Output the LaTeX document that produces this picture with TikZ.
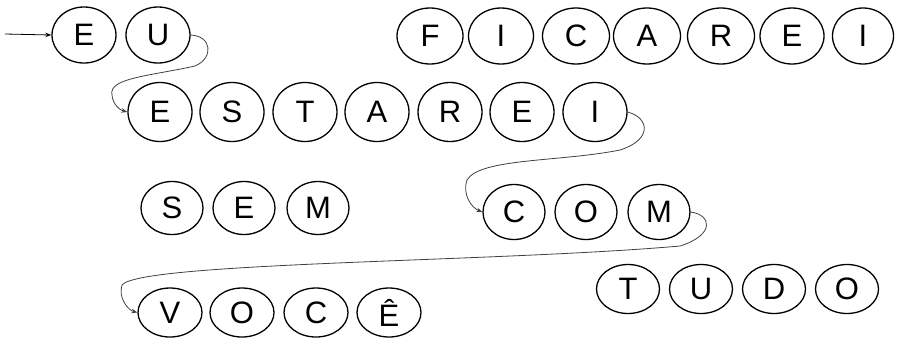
\documentclass[tikz,border=0pt]{standalone}
\usepackage{fontspec}
\setmainfont{Liberation Sans}
\usetikzlibrary{shapes.geometric,arrows.meta}
\begin{document}
\begin{tikzpicture}[x=1pt,y=-1pt,
  letter/.style={ellipse,draw=black,line width=1.3pt,inner sep=0pt,
    minimum width=64pt,minimum height=56pt,font=\fontsize{31}{31}\selectfont},
  small/.style={minimum width=63pt,minimum height=49pt},
  link/.style={draw=black!75,line width=0.8pt,-{Stealth[length=6pt,width=4.5pt]}}]
\useasboundingbox (0,0) rectangle (907,338);
% row 1
\node[letter] (e1) at (84,35) {E};
\node[letter] (u1) at (158,35) {U};
\node[letter,minimum width=66pt] (f1) at (430,36) {F};
\node[letter,minimum width=65pt] (i1) at (501,36) {I};
\node[letter,minimum width=67pt] (c1) at (576,36) {C};
\node[letter,minimum width=67pt] (a1) at (647,36) {A};
\node[letter,minimum width=67pt] (r1) at (721,36) {R};
\node[letter,minimum width=64pt] (e1b) at (792,36) {E};
\node[letter,minimum width=61pt] (i1b) at (863,36) {I};
% row 2
\node[letter,minimum height=59pt] (e2) at (160,112) {E};
\node[letter,minimum height=59pt] (s2) at (232,112) {S};
\node[letter,minimum height=59pt] (t2) at (305,112) {T};
\node[letter,minimum height=59pt] (a2) at (377,112) {A};
\node[letter,minimum height=59pt] (r2) at (450,112) {R};
\node[letter,minimum height=59pt] (e2b) at (522,112) {E};
\node[letter,minimum height=59pt] (i2) at (595,112) {I};
% row 3
\node[letter,minimum width=62pt,minimum height=53pt] (s3) at (172,208) {S};
\node[letter,minimum width=62pt,minimum height=53pt] (e3) at (244,208) {E};
\node[letter,minimum width=62pt,minimum height=53pt] (m3) at (318,208) {M};
\node[letter,minimum width=62pt,minimum height=55pt] (c3) at (514,212) {C};
\node[letter,minimum width=62pt,minimum height=55pt] (o3) at (586,212) {O};
\node[letter,minimum width=62pt,minimum height=55pt] (m3b) at (659,212) {M};
% row 4
\node[letter,small] (t4) at (628,289) {T};
\node[letter,small] (u4) at (701,289) {U};
\node[letter,small] (d4) at (774,289) {D};
\node[letter,small] (o4) at (847,289) {O};
% row 5
\node[letter,minimum height=49pt] (v5) at (170,312.5) {V};
\node[letter,minimum height=49pt] (o5) at (242,312.5) {O};
\node[letter,minimum height=49pt] (c5) at (316,312.5) {C};
\node[letter,minimum height=49pt] (ee5) at (389,312.5) {Ê};
% connectors
\coordinate (start) at (5,34);
\draw[draw=black,line width=0.8pt,-{Stealth[length=6pt,width=4.5pt]}] (start) -- (e1.west);
\draw[link] (u1.east) .. controls (212,36) and (214,58) .. (195,66)
  .. controls (150,76) and (108,78) .. (112,95)
  .. controls (113,105) and (120,110) .. (e2.west);
\draw[link] (i2.east) .. controls (650,118) and (652,140) .. (620,150)
  .. controls (560,162) and (480,158) .. (467,180)
  .. controls (462,195) and (472,208) .. (c3.west);
\draw[link] (m3b.east) .. controls (712,215) and (715,235) .. (680,246)
  .. controls (500,262) and (140,262) .. (122,285)
  .. controls (118,298) and (128,310) .. (v5.west);
\end{tikzpicture}
\end{document}
